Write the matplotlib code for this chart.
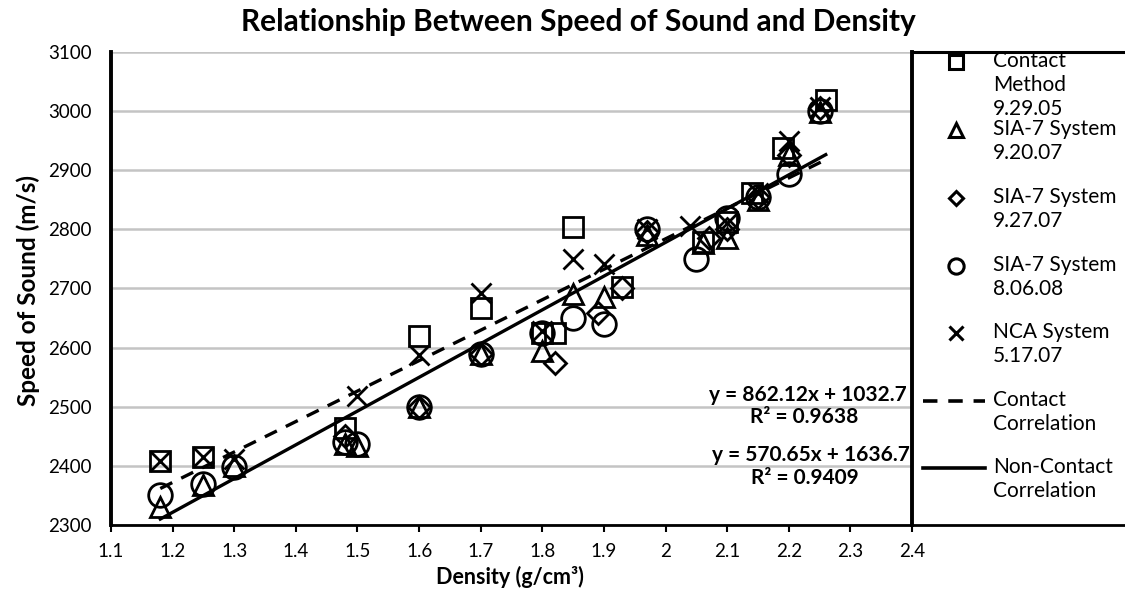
import matplotlib.pyplot as plt

plt.rcParams['font.family'] = ['Lato', 'DejaVu Sans']

# --- data ---
contact_x = [1.18, 1.25, 1.48, 1.60, 1.70, 1.80, 1.82, 1.85, 1.93, 2.06, 2.10, 2.14, 2.19, 2.26]
contact_y = [2408, 2415, 2464, 2620, 2667, 2625, 2625, 2804, 2702, 2778, 2812, 2862, 2938, 3018]

sia_0920_x = [1.18, 1.25, 1.30, 1.48, 1.50, 1.60, 1.70, 1.80, 1.85, 1.90, 1.97, 2.06, 2.10, 2.15, 2.20, 2.25]
sia_0920_y = [2330, 2368, 2400, 2437, 2433, 2500, 2590, 2595, 2690, 2685, 2790, 2777, 2785, 2850, 2925, 2998]

sia_0927_x = [1.48, 1.60, 1.70, 1.82, 1.89, 1.93, 1.97, 2.07, 2.10, 2.15, 2.20, 2.25]
sia_0927_y = [2450, 2500, 2590, 2574, 2658, 2700, 2795, 2785, 2800, 2855, 2925, 3005]

sia_0806_x = [1.18, 1.25, 1.30, 1.48, 1.50, 1.60, 1.70, 1.80, 1.85, 1.90, 1.97, 2.05, 2.10, 2.15, 2.20, 2.25]
sia_0806_y = [2350, 2370, 2398, 2440, 2437, 2500, 2590, 2625, 2650, 2640, 2800, 2750, 2820, 2855, 2893, 3000]

nca_x = [1.18, 1.25, 1.30, 1.50, 1.60, 1.70, 1.80, 1.85, 1.90, 1.97, 2.04, 2.10, 2.15, 2.20, 2.25]
nca_y = [2408, 2415, 2412, 2518, 2587, 2692, 2628, 2750, 2742, 2800, 2805, 2810, 2862, 2950, 3007]

fit_x = [1.18, 2.26]
contact_fit = (515.0, 1754.0)      # drawn dashed line (slope, intercept)
noncontact_fit = (570.65, 1636.7)  # drawn solid line

eq_labels = ["y = 862.12x + 1032.7", "R\u00b2 = 0.9638",
             "y = 570.65x + 1636.7", "R\u00b2 = 0.9409"]

x_ticks = [1.1, 1.2, 1.3, 1.4, 1.5, 1.6, 1.7, 1.8, 1.9, 2.0, 2.1, 2.2, 2.3, 2.4]
x_tick_labels = ["1.1", "1.2", "1.3", "1.4", "1.5", "1.6", "1.7", "1.8", "1.9", "2", "2.1", "2.2", "2.3", "2.4"]
y_ticks = list(range(2300, 3101, 100))

legend_labels = ["Contact\nMethod\n9.29.05", "SIA-7 System\n9.20.07", "SIA-7 System\n9.27.07",
                 "SIA-7 System\n8.06.08", "NCA System\n5.17.07",
                 "Contact\nCorrelation", "Non-Contact\nCorrelation"]

fig = plt.figure(figsize=(11.25, 5.9), dpi=100)
ax = fig.add_axes([111 / 1125, 65 / 590, 801 / 1125, 473 / 590])

mk = dict(linestyle='none', markerfacecolor='none', markeredgecolor='black',
          markeredgewidth=2, color='black')
ax.plot(contact_x, contact_y, marker='s', markersize=15, **mk)
ax.plot(sia_0920_x, sia_0920_y, marker='^', markersize=15, **mk)
ax.plot(sia_0927_x, sia_0927_y, marker='D', markersize=11, **mk)
ax.plot(sia_0806_x, sia_0806_y, marker='o', markersize=17, **mk)
ax.plot(nca_x, nca_y, marker='x', markersize=15, **mk)

ax.plot(fit_x, [contact_fit[0] * x + contact_fit[1] for x in fit_x],
        color='black', lw=2.4, dashes=(4, 3))
ax.plot(fit_x, [noncontact_fit[0] * x + noncontact_fit[1] for x in fit_x],
        color='black', lw=2.4)

ax.set_xlim(1.1, 2.4)
ax.set_ylim(2300, 3100)
ax.set_xticks(x_ticks)
ax.set_xticklabels(x_tick_labels)
ax.set_yticks(y_ticks)
ax.grid(axis='y', color='#c4c4c4', lw=1.8)
ax.set_axisbelow(True)
ax.tick_params(axis='x', direction='out', length=5, width=1.5, labelsize=13.5, pad=8)
ax.tick_params(axis='y', direction='out', length=0, labelsize=13.5, pad=14)
ax.spines['top'].set_visible(False)
ax.spines['left'].set_linewidth(2.8)
ax.spines['right'].set_linewidth(2.8)
ax.spines['bottom'].set_linewidth(2)

eq_kw = dict(transform=ax.transAxes, fontsize=15, fontweight='bold', va='center')
ax.text(0.9938, 0.2748, eq_labels[0], ha='right', **eq_kw)
ax.text(0.866, 0.2283, eq_labels[1], ha='center', **eq_kw)
ax.text(0.9975, 0.148, eq_labels[2], ha='right', **eq_kw)
ax.text(0.866, 0.0994, eq_labels[3], ha='center', **eq_kw)

fig.text(578 / 1125, 1 - 22 / 590, "Relationship Between Speed of Sound and Density",
         ha='center', va='center', fontsize=21.5, fontweight='bold')
fig.text(28 / 1125, 1 - 290 / 590, "Speed of Sound (m/s)", rotation=90,
         ha='center', va='center', fontsize=17.5, fontweight='bold')
fig.text(510 / 1125, 1 - 577 / 590, "Density (g/cm\u00b3)",
         ha='center', va='center', fontsize=15.5, fontweight='bold')

# legend box to the right of the plot, in pixel coordinates
lax = fig.add_axes([912 / 1125, 65 / 590, 0.25, 473 / 590])
lax.set_xlim(912, 912 + 0.25 * 1125)
lax.set_ylim(525, 52)
lax.set_xticks([])
lax.set_yticks([])
lax.patch.set_alpha(0)
for s in ['left', 'right']:
    lax.spines[s].set_visible(False)
lax.spines['top'].set_linewidth(2.2)
lax.spines['bottom'].set_linewidth(2)

leg_mk = [('s', 10), ('^', 10), ('D', 7.5), ('o', 11), ('x', 10)]
leg_y = [62, 130, 198, 266, 333, 401, 468]
for (m, ms), yy in zip(leg_mk, leg_y[:5]):
    lax.plot([956], [yy], marker=m, markersize=ms, markerfacecolor='none',
             markeredgecolor='black', markeredgewidth=2.2, linestyle='none')
lax.plot([923, 985], [leg_y[5], leg_y[5]], color='black', lw=2.6, dashes=(4, 3))
lax.plot([923, 985], [leg_y[6], leg_y[6]], color='black', lw=2.6)
for lab, yy in zip(legend_labels, leg_y):
    lax.text(993, yy - 10.5, lab, ha='left', va='top', fontsize=15, linespacing=1.22)

fig.savefig('out.png', dpi=100)
